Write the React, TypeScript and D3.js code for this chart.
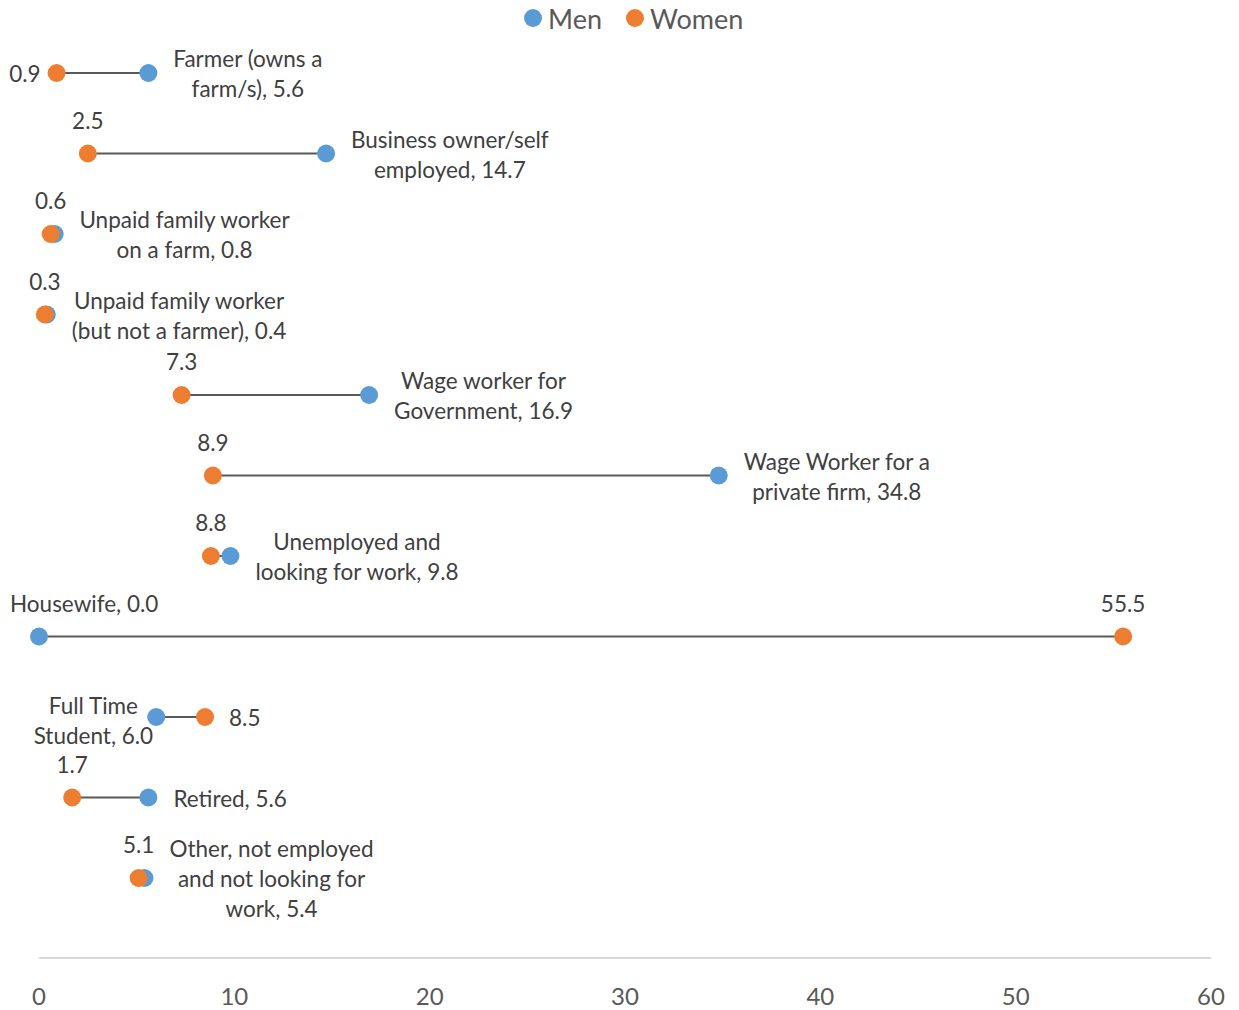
import React, { useEffect, useRef } from 'react';
import * as d3 from 'd3';

// 범주 (줄바꿈은 라벨 표시용)
const categoryLines: string[][] = [
  ['Farmer (owns a', 'farm/s)'],
  ['Business owner/self', 'employed'],
  ['Unpaid family worker', 'on a farm'],
  ['Unpaid family worker', '(but not a farmer)'],
  ['Wage worker for', 'Government'],
  ['Wage Worker for a', 'private firm'],
  ['Unemployed and', 'looking for work'],
  ['Housewife'],
  ['Full Time', 'Student'],
  ['Retired'],
  ['Other, not employed', 'and not looking for', 'work'],
];
const menValues = [5.6, 14.7, 0.8, 0.4, 16.9, 34.8, 9.8, 0.0, 6.0, 5.6, 5.4];
const womenValues = [0.9, 2.5, 0.6, 0.3, 7.3, 8.9, 8.8, 55.5, 8.5, 1.7, 5.1];
const xTicks = [0, 10, 20, 30, 40, 50, 60];
const seriesNames = ['Men', 'Women'];

const W = 1239;
const H = 1010;
const MEN = '#5B9BD5';
const WOMEN = '#ED7D31';
const FONT = 'Lato, "Open Sans", sans-serif';

type Place = 'right' | 'left' | 'above';
// 라벨 위치 (기본값: 남성 right, 여성 above)
const menPlace: Record<number, Place> = { 7: 'above', 8: 'left' };
const womenPlace: Record<number, Place> = { 0: 'left', 8: 'right' };

const App: React.FC = () => {
  const ref = useRef<SVGSVGElement>(null);

  useEffect(() => {
    if (!ref.current) return;
    const svg = d3.select(ref.current);
    svg.selectAll('*').remove();

    const x = d3.scaleLinear().domain([0, 60]).range([39, 1211]);
    const n = categoryLines.length;
    const y = d3.scaleLinear().domain([0, 11.5]).range([958.5, 32.75]);
    const rowY = (i: number) => y(n - i);

    // x축
    svg
      .append('line')
      .attr('x1', x(0))
      .attr('x2', x(60))
      .attr('y1', 958)
      .attr('y2', 958)
      .attr('stroke', '#D9D9D9')
      .attr('stroke-width', 2);
    svg
      .append('g')
      .selectAll('text')
      .data(xTicks)
      .join('text')
      .attr('x', (d) => x(d))
      .attr('y', 995)
      .attr('text-anchor', 'middle')
      .attr('dominant-baseline', 'central')
      .attr('font-family', FONT)
      .attr('font-size', 24)
      .attr('fill', '#595959')
      .text((d) => d);

    // 연결선
    svg
      .append('g')
      .selectAll('line')
      .data(menValues)
      .join('line')
      .attr('x1', (d) => x(d))
      .attr('x2', (_, i) => x(womenValues[i]))
      .attr('y1', (_, i) => rowY(i))
      .attr('y2', (_, i) => rowY(i))
      .attr('stroke', '#595959')
      .attr('stroke-width', 2);

    // 점
    svg
      .append('g')
      .selectAll('circle')
      .data(menValues)
      .join('circle')
      .attr('cx', (d) => x(d))
      .attr('cy', (_, i) => rowY(i))
      .attr('r', 9)
      .attr('fill', MEN);
    svg
      .append('g')
      .selectAll('circle')
      .data(womenValues)
      .join('circle')
      .attr('cx', (d) => x(d))
      .attr('cy', (_, i) => rowY(i))
      .attr('r', 9)
      .attr('fill', WOMEN);

    // 라벨
    const labels = svg.append('g').attr('font-family', FONT).attr('font-size', 22.5).attr('fill', '#404040');
    const addLabel = (lines: string[], place: Place, px: number, py: number, isMen: boolean) => {
      const t = labels.append('text').attr('text-anchor', 'middle').attr('dominant-baseline', 'central');
      const spans = lines.map((l) => t.append('tspan').text(l));
      const w = d3.max(spans, (s) => (s.node() as SVGTSpanElement).getComputedTextLength()) || 0;
      let cx = px;
      let cy = py;
      if (place === 'right') cx = px + (isMen ? 25 : 24) + w / 2;
      else if (place === 'left') cx = px - (isMen ? 3 : 16) - w / 2;
      else {
        cx = Math.max(px, 10 + w / 2);
        cy = py - 34;
      }
      if (place === 'left' && isMen) cy = py + 3;
      spans.forEach((s, k) => s.attr('x', cx).attr('y', cy + (k - (lines.length - 1) / 2) * 30));
    };

    categoryLines.forEach((cat, i) => {
      const mv = menValues[i];
      const wv = womenValues[i];
      const mLines = cat.slice();
      mLines[mLines.length - 1] = `${mLines[mLines.length - 1]}, ${mv.toFixed(1)}`;
      addLabel(mLines, menPlace[i] ?? 'right', x(mv), rowY(i), true);
      addLabel([wv.toFixed(1)], womenPlace[i] ?? 'above', x(wv), rowY(i), false);
    });

    // 범례
    const legend = svg.append('g').attr('font-family', FONT).attr('font-size', 27).attr('fill', '#595959');
    let lx = 524;
    seriesNames.forEach((name, k) => {
      legend
        .append('circle')
        .attr('cx', lx + 9)
        .attr('cy', 18)
        .attr('r', 9)
        .attr('fill', k === 0 ? MEN : WOMEN);
      const t = legend
        .append('text')
        .attr('x', lx + 24)
        .attr('y', 18)
        .attr('dominant-baseline', 'central')
        .text(name);
      lx += 24 + (t.node() as SVGTextElement).getComputedTextLength() + 24;
    });
  }, []);

  return (
    <svg
      ref={ref}
      width={W}
      height={H}
      style={{ position: 'absolute', left: 0, top: 0, background: '#fff' }}
    />
  );
};

export default App;
